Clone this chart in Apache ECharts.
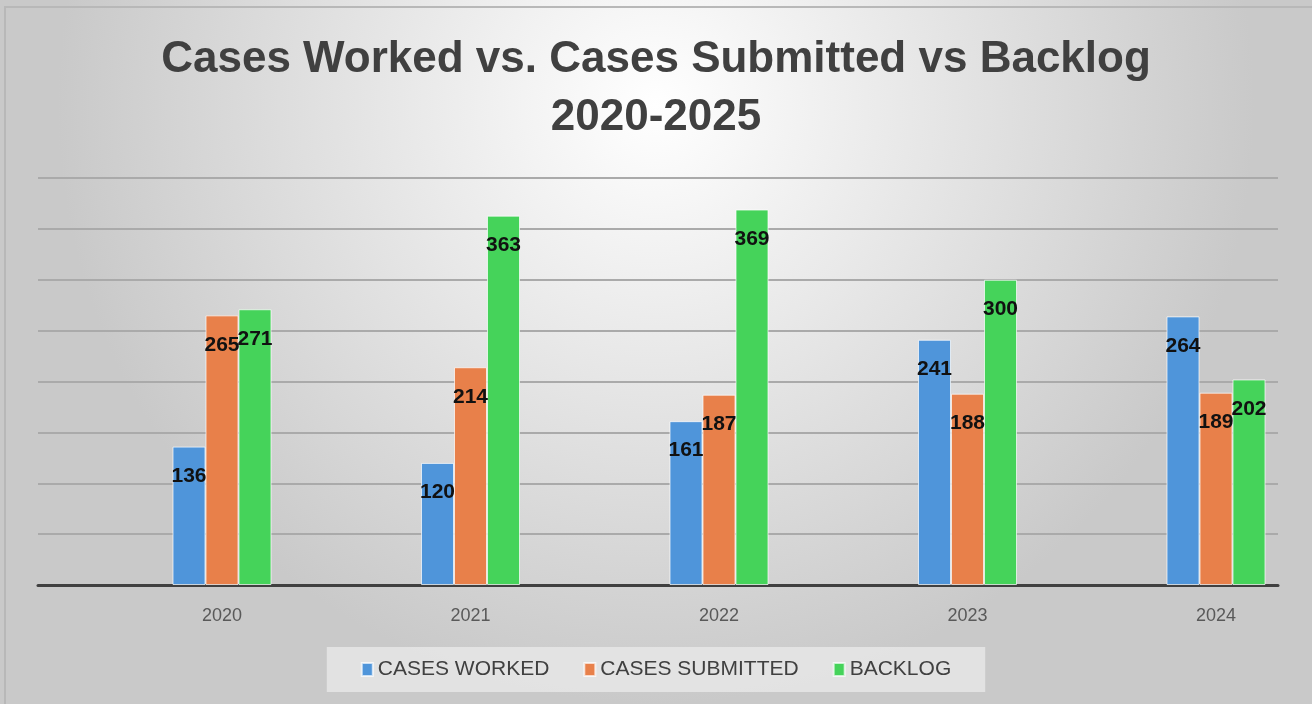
<!DOCTYPE html>
<html>
<head>
<meta charset="utf-8">
<script src="https://cdn.jsdelivr.net/npm/echarts@6/dist/echarts.min.js"></script>
<style>
	html, body { margin: 0; padding: 0; }
	#chart { width: 1312px; height: 704px; }
</style>
</head>
<body>
<div id="chart"></div>
<script>
	const years = ['2020', '2021', '2022', '2023', '2024']
	const casesWorked = [136, 120, 161, 241, 264]
	const casesSubmitted = [265, 214, 187, 188, 189]
	const backlog = [271, 363, 369, 300, 202]
	const colors = ['#4f95da', '#e8804a', '#45d35a']

	const chart = echarts.init(document.getElementById('chart'), null, { renderer: 'canvas' })

	// label style shared by all bars
	const barLabel = {
		show: true,
		position: 'insideTop',
		distance: 19,
		color: '#111',
		fontSize: 21,
		fontWeight: 'bold',
		fontFamily: 'Liberation Sans'
	}

	function barSeries(name, data, color) {
		return {
			name: name,
			type: 'bar',
			xAxisIndex: 1,
			yAxisIndex: 1,
			barWidth: 33,
			barGap: '0%',
			itemStyle: {
				color: color,
				borderColor: 'rgba(255,255,255,0.7)',
				borderWidth: 1
			},
			label: barLabel,
			data: data
		}
	}

	chart.setOption({
		backgroundColor: {
			type: 'radial',
			x: 0.5, y: 0.15, r: 0.85,
			colorStops: [
				{ offset: 0, color: '#ffffff' },
				{ offset: 1, color: '#c9c9c9' }
			]
		},
		graphic: [{
			type: 'rect',
			shape: { x: 5, y: 7, width: 1310, height: 700 },
			style: { fill: 'none', stroke: '#b8b8b8', lineWidth: 2 },
			silent: true
		}],
		title: {
			text: 'Cases Worked vs. Cases Submitted vs Backlog\n2020-2025',
			left: 'center',
			top: 26,
			textStyle: {
				color: '#404040',
				fontSize: 44,
				fontWeight: 'bold',
				fontFamily: 'Liberation Sans',
				lineHeight: 58
			}
		},
		legend: {
			bottom: 12,
			left: 'center',
			icon: 'rect',
			itemWidth: 11,
			itemHeight: 13,
			itemGap: 34,
			padding: [12, 34],
			backgroundColor: 'rgba(232,232,232,0.8)',
			textStyle: {
				color: '#404040',
				fontSize: 21,
				fontFamily: 'Liberation Sans'
			},
			data: ['CASES WORKED', 'CASES SUBMITTED', 'BACKLOG']
		},
		grid: [
			{ left: 38, right: 34, top: 178, bottom: 119 },
			{ left: 222, right: 96, top: 178, bottom: 119 }
		],
		xAxis: [
			{
				type: 'category',
				gridIndex: 0,
				data: years,
				axisLine: { lineStyle: { color: '#404040', width: 3 } },
				axisTick: { show: false },
				axisLabel: { show: false }
			},
			{
				type: 'category',
				gridIndex: 1,
				boundaryGap: false,
				data: years,
				axisLine: { show: false },
				axisTick: { show: false },
				axisLabel: {
					color: '#595959',
					fontSize: 18,
					fontFamily: 'Liberation Sans',
					margin: 22
				}
			}
		],
		yAxis: [
			{
				type: 'value',
				gridIndex: 0,
				min: 0,
				max: 400,
				interval: 50,
				axisLabel: { show: false },
				axisLine: { show: false },
				splitLine: { lineStyle: { color: '#aaaaaa', width: 2 } }
			},
			{
				type: 'value',
				gridIndex: 1,
				min: 0,
				max: 400,
				interval: 50,
				show: false
			}
		],
		series: [
			barSeries('CASES WORKED', casesWorked, colors[0]),
			barSeries('CASES SUBMITTED', casesSubmitted, colors[1]),
			barSeries('BACKLOG', backlog, colors[2])
		]
	})

	window.addEventListener('resize', () => {
		chart.resize()
	})
</script>
</body>
</html>
